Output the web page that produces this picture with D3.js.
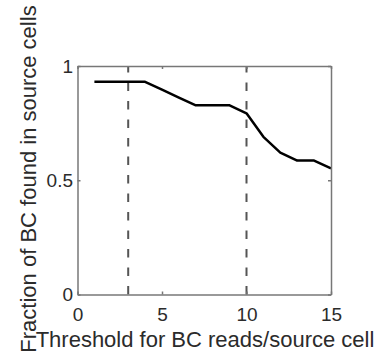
<!DOCTYPE html>
<html>
<head>
<meta charset="utf-8">
<script src="https://cdn.jsdelivr.net/npm/d3@7"></script>
<style>
  body { margin: 0; background: #fff; }
  svg { display: block; font-family: "Liberation Sans", Arial, sans-serif; }
</style>
</head>
<body>
<svg id="chart" width="384" height="358"></svg>
<script>
// values
var thresholds = [1, 2, 3, 4, 5, 6, 7, 8, 9, 10, 11, 12, 13, 14, 15];
var fractions = [0.931, 0.931, 0.931, 0.931, 0.897, 0.862, 0.828, 0.828, 0.828, 0.793, 0.69, 0.621, 0.586, 0.586, 0.552];
var cutoffs = [3, 10];
var xTicks = [0, 5, 10, 15];
var yTicks = [0, 0.5, 1];
var xLabel = "Threshold for BC reads/source cell";
var yLabel = "Fraction of BC found in source cells";

(function(){
    var left = 77.5, right = 331, top = 66, bottom = 294.5;
    var axisColor = "#777";
    var textColor = "#2b2b2b";

    var svg = d3.select("#chart");

    var x = d3.scaleLinear().domain([0, 15]).range([left, right]);
    var y = d3.scaleLinear().domain([0, 1]).range([bottom, top]);

    /*
     * dashed threshold lines, drawn from the bottom up like matlab does
     */
    svg.append("g")
        .selectAll("line")
        .data(cutoffs)
        .enter().append("line")
        .attr("x1", function (d) { return x(d); })
        .attr("x2", function (d) { return x(d); })
        .attr("y1", y(0))
        .attr("y2", y(1))
        .attr("stroke", "#555")
        .attr("stroke-width", 2)
        .attr("stroke-dasharray", "8.5,10");

    // the curve
    var line = d3.line()
        .x(function (d, i) { return x(thresholds[i]); })
        .y(function (d) { return y(d); });

    svg.append("path")
        .datum(fractions)
        .attr("d", line)
        .attr("fill", "none")
        .attr("stroke", "#000")
        .attr("stroke-width", 2.5)
        .attr("stroke-linejoin", "round");

    // box with inward ticks on all four sides
    var tickLen = 3;
    var plain = function (d) { return String(d); };
    var axBottom = svg.append("g").attr("transform", "translate(0," + bottom + ")")
        .call(d3.axisBottom(x).tickValues(xTicks).tickFormat(plain).tickSizeInner(-tickLen).tickSizeOuter(0).tickPadding(13));
    var axTop = svg.append("g").attr("transform", "translate(0," + top + ")")
        .call(d3.axisTop(x).tickValues(xTicks).tickSizeInner(-tickLen).tickSizeOuter(0).tickFormat(""));
    var axLeft = svg.append("g").attr("transform", "translate(" + left + ",0)")
        .call(d3.axisLeft(y).tickValues(yTicks).tickFormat(plain).tickSizeInner(-tickLen).tickSizeOuter(0).tickPadding(4.5));
    var axRight = svg.append("g").attr("transform", "translate(" + right + ",0)")
        .call(d3.axisRight(y).tickValues(yTicks).tickSizeInner(-tickLen).tickSizeOuter(0).tickFormat(""));

    [axBottom, axTop, axLeft, axRight].forEach(function (g) {
        g.select(".domain").attr("stroke", axisColor).attr("stroke-width", 1.5);
        g.selectAll(".tick line").attr("stroke", axisColor).attr("stroke-width", 1.5);
        g.selectAll(".tick text")
            .attr("fill", textColor)
            .style("font-size", "19px")
            .style("font-family", "'Liberation Sans', Arial, sans-serif");
    });
    axLeft.selectAll(".tick text").attr("dy", "0.34em");

    // labels
    svg.append("text")
        .attr("x", 205)
        .attr("y", 347)
        .attr("text-anchor", "middle")
        .attr("fill", textColor)
        .style("font-size", "22px")
        .text(xLabel);

    svg.append("text")
        .attr("transform", "translate(36,179) rotate(-90)")
        .attr("text-anchor", "middle")
        .attr("fill", textColor)
        .style("font-size", "22px")
        .text(yLabel);
})();
</script>
</body>
</html>
